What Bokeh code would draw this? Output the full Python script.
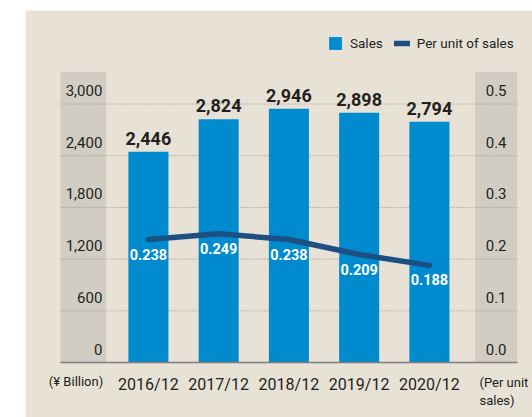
from bokeh.plotting import figure
from bokeh.models import (Range1d, FixedTicker, Legend, LegendItem, Label)
from bokeh.embed import file_html
from bokeh.resources import INLINE
from bokeh.core.properties import value

# ---- data ----
years = ["2016/12", "2017/12", "2018/12", "2019/12", "2020/12"]
sales = [2446, 2824, 2946, 2898, 2794]
per_unit = [0.238, 0.249, 0.238, 0.209, 0.188]
sales_ticks = [0, 600, 1200, 1800, 2400, 3000]
sales_tick_labels = ["0", "600", "1,200", "1,800", "2,400", "3,000"]
unit_ticks = [0.0, 0.1, 0.2, 0.3, 0.4, 0.5]
unit_tick_labels = ["0.0", "0.1", "0.2", "0.3", "0.4", "0.5"]

# ---- style ----
BG = "#e8e2d6"
BAND = "#d1cdc3"
BLUE = "#008bcf"
NAVY = "#1c4f82"
TXT = "#231f20"
FONT = "Roboto"

# plot area (axes box) in data units, and full canvas extent
X0, X1 = -1.25, 5.25
Y1 = 3375
XA, XB = -1.7495, 5.4676
YA, YB = -637, 4085
RATIO = 6000.0  # sales units per "per unit" unit

xs = list(range(len(years)))

p = figure(width=507, height=407, output_backend="svg", toolbar_location=None,
           x_range=Range1d(XA, XB), y_range=Range1d(YA, YB),
           y_axis_location=None, min_border=0,
           background_fill_color=BG, border_fill_color=BG, outline_line_color=None,
           margin=(10, 0, 0, 25))
p.extra_y_ranges = {"unit": Range1d(YA / RATIO, YB / RATIO)}
p.xgrid.visible = False
p.ygrid.visible = False

# axis bands
p.quad(left=[X0, 4.65], right=[-0.6, X1], bottom=0, top=Y1, color=BAND,
       line_color=None, level="image")

# dotted gridlines at the sales ticks
n = len(sales_ticks)
p.segment(x0=[X0] * n, x1=[X1] * n, y0=sales_ticks, y1=sales_ticks,
          line_color="#8f8b84", line_dash="1 2", line_width=1, level="underlay")

bars = p.vbar(x=xs, top=sales, width=0.57, bottom=0, color=BLUE, line_color=None)
line = p.line(xs, per_unit, y_range_name="unit", line_width=5.5, color=NAVY,
              line_cap="round", line_join="round")

p.text(x=xs, y=sales, text=[f"{v:,}" for v in sales], text_align="center",
       text_baseline="middle", y_offset=-13.5, text_font=value(FONT),
       text_font_style="bold", text_font_size="18px", text_color=TXT)
p.text(x=xs, y=per_unit, y_range_name="unit", text=[f"{v:.3f}" for v in per_unit],
       text_align="center", text_baseline="middle", y_offset=14.5,
       text_font=value(FONT), text_font_style="bold", text_font_size="14.5px",
       text_color="white")

# y tick labels inside the bands
p.text(x=[-0.656] * n, y=sales_ticks, text=sales_tick_labels,
       text_align="right", text_baseline="middle", y_offset=-13.5,
       text_font=value(FONT), text_font_size="15px", text_color=TXT)
p.text(x=[4.95] * len(unit_ticks), y=unit_ticks, y_range_name="unit", text=unit_tick_labels,
       text_align="center", text_baseline="middle", y_offset=-13.5,
       text_font=value(FONT), text_font_size="15px", text_color=TXT)

# x axis at y = 0
ax = p.xaxis[0]
ax.fixed_location = 0
ax.bounds = (X0, X1)
ax.ticker = FixedTicker(ticks=xs)
ax.major_label_overrides = {i: y for i, y in enumerate(years)}
ax.axis_line_color = "#7f7f7f"
ax.axis_line_width = 1.5
ax.major_tick_line_color = None
ax.minor_tick_line_color = None
ax.major_label_standoff = 6
ax.major_label_text_font = FONT
ax.major_label_text_font_size = "16px"
ax.major_label_text_color = TXT

# unit captions
p.add_layout(Label(x=-0.643, y=-216, text="(¥ Billion)", text_align="right",
                   text_baseline="middle", text_font=FONT, text_font_size="13px",
                   text_color=TXT))
p.add_layout(Label(x=4.713, y=-234, text="(Per unit of", text_align="left",
                   text_baseline="middle", text_font=FONT, text_font_size="13px",
                   text_color=TXT))
p.add_layout(Label(x=4.713, y=-439, text="sales)", text_align="left",
                   text_baseline="middle", text_font=FONT, text_font_size="13px",
                   text_color=TXT))

legend = Legend(items=[LegendItem(label="Sales", renderers=[bars]),
                       LegendItem(label="Per unit of sales", renderers=[line])],
                orientation="horizontal", location=(302, 366),
                glyph_width=16, glyph_height=16, label_height=16,
                label_standoff=7, spacing=11, padding=0, margin=0,
                border_line_color=None, background_fill_alpha=0,
                label_text_font=FONT, label_text_font_size="13.5px",
                label_text_color=TXT)
p.add_layout(legend)

open("out.html", "w").write(file_html(p, INLINE))
